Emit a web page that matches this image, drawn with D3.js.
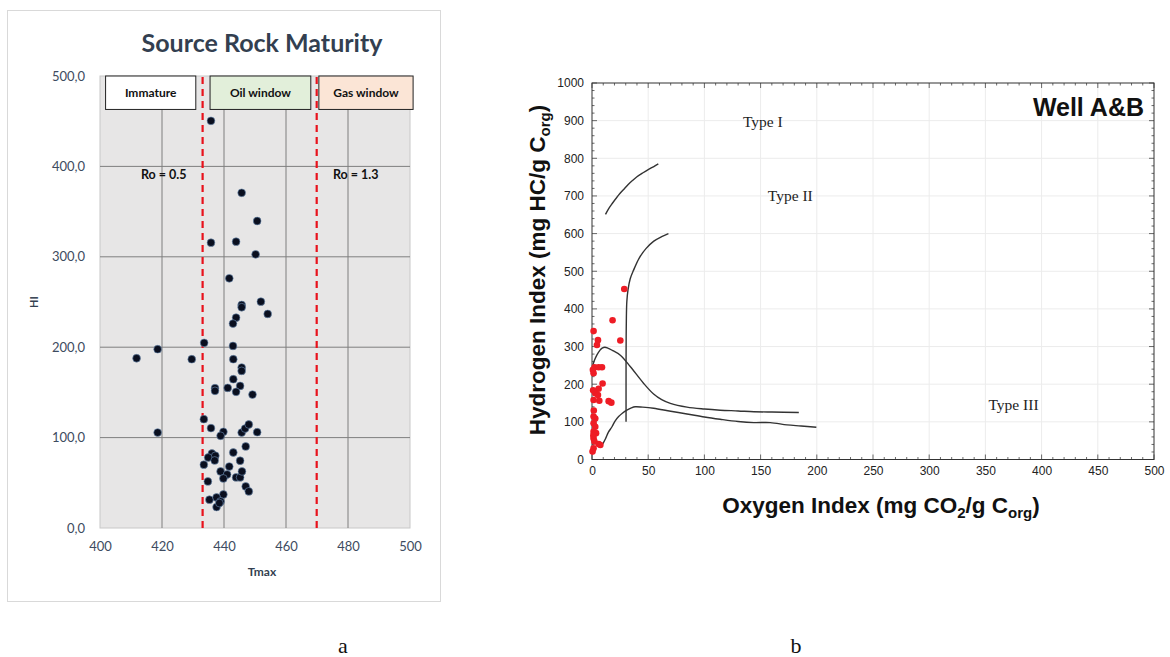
<!DOCTYPE html>
<html><head><meta charset="utf-8">
<script src="https://cdn.jsdelivr.net/npm/d3@7"></script>
<style>
html,body{margin:0;padding:0;background:#fff;}
svg{display:block;}
</style></head>
<body>
<svg id="chart" width="1170" height="657"></svg>
<script>
// ---------- Panel a data (Tmax vs HI) ----------
const tmax = [435.8,445.7,450.7,435.8,443.9,450.2,441.7,451.9,445.7,445.7,454.1,443.9,442.9,
  433.6,442.9,411.8,418.6,429.6,443.0,445.7,445.7,443.0,437.1,437.1,441.2,445.2,443.9,449.2,
  433.5,435.8,439.8,438.9,445.7,446.8,448.0,450.7,418.6,447.0,436.1,437.2,434.9,437.0,433.5,
  443.0,445.2,441.7,438.9,441.0,439.8,443.9,445.2,445.8,434.8,447.0,448.0,439.8,435.3,437.6,
  438.9,437.6,438.5];
const hiA = [450.4,370.8,339.6,315.6,316.7,302.7,276.2,250.4,246.7,244.2,236.8,232.7,226.1,
  204.8,201.4,187.8,197.8,186.7,186.7,177.5,173.8,164.6,154.7,151.7,155.0,157.2,150.6,147.6,
  120.4,110.5,106.4,102.0,105.6,110.0,114.5,106.0,105.6,90.2,82.4,79.9,78.0,74.7,70.0,
  83.5,74.4,68.0,62.6,59.2,54.8,56.0,56.0,62.6,51.5,46.0,40.5,37.1,31.3,33.8,
  29.4,23.2,27.6];
const tmaxTicks = [400,420,440,460,480,500];
const hiTicksA = [0,100,200,300,400,500];
const roValues = [433.1,469.9];
const roLabels = ["Ro = 0.5","Ro = 1.3"];
const zoneNames = ["Immature","Oil window","Gas window"];
const zoneStart = [401.8,435.5,470.6];
const zoneEnd = [430.9,468.0,501.0];
const zoneColors = ["#ffffff","#e2efda","#fbe5d6"];

// ---------- Panel b data (OI vs HI) ----------
const oi = [28.7,18.3,1.4,5.3,25.2,4.4,2.3,5.9,8.9,1.4,0.8,9.4,5.9,2.9,5.3,1.4,6.5,14.8,17.2,
  1.4,2.9,1.4,2.9,1.4,3.6,1.4,2.2,5.9,7.4,1.4,0.5,1.0,1.6,1.2];
const hiB = [453,370,341,317,316,304,245,245,245,229,238,202,188,176,171,158,156,155,151,
  114,109,96,87,74,70,56,48,41,38.5,30,21,184,130,64];
const oiTicks = [0,50,100,150,200,250,300,350,400,450,500];
const hiTicksB = [0,100,200,300,400,500,600,700,800,900,1000];
// kerogen type boundary curves
const curve1OI = [12,15,18,22,25,29,32,36,40,45,50,55,59];
const curve1HI = [651,667,680,696,707,720,730,741,751,761,770,778,785];
const curve2OI = [30.3,30.3,30.4,30.6,31,32,34,37,42,48,55,62,68];
const curve2HI = [100,250,330,380,420,450,480,503,535,560,580,592,600];
const curve3OI = [0.5,2,4.4,7,9,11.5,14,18,25.2,34,46,54.8,62,69.7,84.5,100,114,130,144,160,184];
const curve3HI = [247,262,278,290,296,298,296,290,277,247,202,174,159,149,139,134,131,129,127,126,125];
const curve4OI = [9.5,12,14.5,17.8,20.5,23.7,27,31,35,38.5,45,54.8,70,84.5,100,114,130,144,158.6,173.5,186,199.6];
const curve4HI = [41,55,72,87,102,114,123,131,137,140,139,136,128,121,113,107,101,98,98,92,89,85.5];
const typeLabels = ["Type I","Type II","Type III"];
const typeOI = [152,176.4,375];
const typeHI = [897,700,145];

const svg = d3.select("#chart");

// ================= PANEL A =================
const xA = d3.scaleLinear().domain([400,500]).range([100,410]);
const yA = d3.scaleLinear().domain([0,500]).range([528,76]);
const fA = "Lato, 'Open Sans', sans-serif";

svg.append("rect").attr("x",7.5).attr("y",10.5).attr("width",433).attr("height",591)
  .attr("fill","#fff").attr("stroke","#d9d9d9").attr("stroke-width",1);

svg.append("text").attr("x",262).attr("y",52).attr("text-anchor","middle")
  .attr("font-family",fA).attr("font-weight","bold").attr("font-size",25)
  .attr("fill","#333f50").text("Source Rock Maturity");

const gA = svg.append("g");
gA.append("rect").attr("x",xA(400)).attr("y",yA(500)).attr("width",xA(500)-xA(400))
  .attr("height",yA(0)-yA(500)).attr("fill","#e7e6e6").attr("stroke","#c8c8c8").attr("stroke-width",1);

// grid lines
gA.selectAll(".vg").data(tmaxTicks.slice(1,-1)).enter().append("line")
  .attr("x1",d=>xA(d)).attr("x2",d=>xA(d)).attr("y1",yA(0)).attr("y2",yA(500))
  .attr("stroke","#7f7f7f").attr("stroke-width",1);
gA.selectAll(".hg").data(hiTicksA.slice(1,-1)).enter().append("line")
  .attr("x1",xA(400)).attr("x2",xA(500)).attr("y1",d=>yA(d)).attr("y2",d=>yA(d))
  .attr("stroke","#7f7f7f").attr("stroke-width",1);

// axes labels
const axAx = d3.axisBottom(xA).tickValues(tmaxTicks).tickSize(0).tickPadding(14);
gA.append("g").attr("transform",`translate(0,${yA(0)})`).call(axAx)
  .call(g=>g.select(".domain").remove())
  .selectAll("text").attr("font-family",fA).attr("font-size",13).attr("fill","#3d4b60");
const axAy = d3.axisLeft(yA).tickValues(hiTicksA).tickSize(0).tickPadding(15)
  .tickFormat(d=>d.toFixed(1).replace(".",","));
gA.append("g").attr("transform",`translate(${xA(400)},0)`).call(axAy)
  .call(g=>g.select(".domain").remove())
  .selectAll("text").attr("font-family",fA).attr("font-size",13).attr("fill","#3d4b60");

svg.append("text").attr("x",262).attr("y",576).attr("text-anchor","middle")
  .attr("font-family",fA).attr("font-weight","bold").attr("font-size",12)
  .attr("fill","#333f50").text("Tmax");
svg.append("text").attr("transform","translate(38,302) rotate(-90)").attr("text-anchor","middle")
  .attr("font-family",fA).attr("font-weight","bold").attr("font-size",11)
  .attr("fill","#333f50").text("HI");

// zone boxes
const zoneTop = 500, zoneBottom = 463;
zoneNames.forEach((n,i)=>{
  gA.append("rect").attr("x",xA(zoneStart[i])).attr("y",yA(zoneTop))
    .attr("width",xA(zoneEnd[i])-xA(zoneStart[i])).attr("height",yA(zoneBottom)-yA(zoneTop))
    .attr("fill",zoneColors[i]).attr("stroke","#222").attr("stroke-width",1);
  gA.append("text").attr("x",(xA(zoneStart[i])+xA(zoneEnd[i]))/2).attr("y",(yA(zoneTop)+yA(zoneBottom))/2+4)
    .attr("text-anchor","middle").attr("font-family",fA).attr("font-weight","bold")
    .attr("font-size",12).attr("fill","#111").text(n);
});

// Ro dashed lines
gA.selectAll(".ro").data(roValues).enter().append("line")
  .attr("x1",d=>xA(d)).attr("x2",d=>xA(d)).attr("y1",yA(0)).attr("y2",yA(500))
  .attr("stroke","#e8121c").attr("stroke-width",2.2).attr("stroke-dasharray","7,5");
const roLabelX = [141, 333];
roLabels.forEach((t,i)=>{
  gA.append("text").attr("x",roLabelX[i]).attr("y",179).attr("font-family",fA)
    .attr("font-weight","bold").attr("font-size",12.5).attr("fill","#111").text(t);
});

// points
gA.selectAll(".pa").data(tmax).enter().append("circle")
  .attr("cx",(d)=>xA(d)).attr("cy",(d,i)=>yA(hiA[i])).attr("r",3.9)
  .attr("fill","#0a0f1f").attr("stroke","#6d8fb5").attr("stroke-width",0.6);

// ================= PANEL B =================
const xB = d3.scaleLinear().domain([0,500]).range([592,1154]);
const yB = d3.scaleLinear().domain([0,1000]).range([459.5,83]);
const fB = "'Liberation Sans', Arial, sans-serif";
const gB = svg.append("g");

// grid
gB.selectAll(".bvg").data(oiTicks.slice(1,-1)).enter().append("line")
  .attr("x1",d=>xB(d)).attr("x2",d=>xB(d)).attr("y1",yB(0)).attr("y2",yB(1000))
  .attr("stroke","#ececec").attr("stroke-width",1);
gB.selectAll(".bhg").data(hiTicksB.slice(1,-1)).enter().append("line")
  .attr("x1",xB(0)).attr("x2",xB(500)).attr("y1",d=>yB(d)).attr("y2",d=>yB(d))
  .attr("stroke","#ececec").attr("stroke-width",1);

// minor ticks (inward) on all sides
const minorX = d3.range(0,501,10), minorY = d3.range(0,1001,20);
gB.selectAll(".mxb").data(minorX).enter().append("line")
  .attr("x1",d=>xB(d)).attr("x2",d=>xB(d)).attr("y1",yB(0)).attr("y2",d=>yB(0)-(d%50===0?5:2.5))
  .attr("stroke","#444").attr("stroke-width",0.8);
gB.selectAll(".mxt").data(minorX).enter().append("line")
  .attr("x1",d=>xB(d)).attr("x2",d=>xB(d)).attr("y1",yB(1000)).attr("y2",d=>yB(1000)+(d%50===0?5:2.5))
  .attr("stroke","#444").attr("stroke-width",0.8);
gB.selectAll(".myl").data(minorY).enter().append("line")
  .attr("y1",d=>yB(d)).attr("y2",d=>yB(d)).attr("x1",xB(0)).attr("x2",d=>xB(0)+(d%100===0?5:2.5))
  .attr("stroke","#444").attr("stroke-width",0.8);
gB.selectAll(".myr").data(minorY).enter().append("line")
  .attr("y1",d=>yB(d)).attr("y2",d=>yB(d)).attr("x1",xB(500)).attr("x2",d=>xB(500)-(d%100===0?5:2.5))
  .attr("stroke","#444").attr("stroke-width",0.8);

// frame
gB.append("rect").attr("x",xB(0)).attr("y",yB(1000)).attr("width",xB(500)-xB(0))
  .attr("height",yB(0)-yB(1000)).attr("fill","none").attr("stroke","#333").attr("stroke-width",1);

// tick labels
gB.append("g").attr("transform",`translate(0,${yB(0)})`)
  .call(d3.axisBottom(xB).tickValues(oiTicks).tickSize(0).tickPadding(7).tickFormat(d3.format("d")))
  .call(g=>g.select(".domain").remove())
  .selectAll("text").attr("font-family",fB).attr("font-size",12).attr("fill","#222");
gB.append("g").attr("transform",`translate(${xB(0)},0)`)
  .call(d3.axisLeft(yB).tickValues(hiTicksB).tickSize(0).tickPadding(8).tickFormat(d3.format("d")))
  .call(g=>g.select(".domain").remove())
  .selectAll("text").attr("font-family",fB).attr("font-size",12).attr("fill","#222");

// axis titles
const xt = svg.append("text").attr("x",881).attr("y",513).attr("text-anchor","middle")
  .attr("font-family",fB).attr("font-weight","bold").attr("font-size",22.5).attr("fill","#111");
xt.append("tspan").text("Oxygen Index (mg CO");
xt.append("tspan").attr("font-size",15).attr("dy",5).text("2");
xt.append("tspan").attr("dy",-5).text("/g C");
xt.append("tspan").attr("font-size",15).attr("dy",5).text("org");
xt.append("tspan").attr("dy",-5).text(")");

const yt = svg.append("text").attr("transform","translate(545,270) rotate(-90)").attr("text-anchor","middle")
  .attr("font-family",fB).attr("font-weight","bold").attr("font-size",22.5).attr("fill","#111");
yt.append("tspan").text("Hydrogen Index (mg HC/g C");
yt.append("tspan").attr("font-size",15).attr("dy",5).text("org");
yt.append("tspan").attr("dy",-5).text(")");

svg.append("text").attr("x",1144).attr("y",116).attr("text-anchor","end")
  .attr("font-family",fB).attr("font-weight","bold").attr("font-size",25).attr("fill","#111")
  .text("Well A&B");

// curves
const lineC = d3.line().x(d=>xB(d[0])).y(d=>yB(d[1])).curve(d3.curveCatmullRom);
const curves = [
  [curve1OI,curve1HI],[curve2OI,curve2HI],[curve3OI,curve3HI],[curve4OI,curve4HI]
];
curves.forEach((c)=>{
  const pts = c[0].map((v,j)=>[v,c[1][j]]);
  gB.append("path").attr("d",lineC(pts)).attr("fill","none")
    .attr("stroke","#333").attr("stroke-width",1.4);
});

// type labels
typeLabels.forEach((t,i)=>{
  gB.append("text").attr("x",xB(typeOI[i])).attr("y",yB(typeHI[i])+5).attr("text-anchor","middle")
    .attr("font-family","'Liberation Serif','Times New Roman',serif").attr("font-size",15.5)
    .attr("fill","#222").text(t);
});

// red points
gB.selectAll(".pb").data(oi).enter().append("circle")
  .attr("cx",d=>xB(d)).attr("cy",(d,i)=>yB(hiB[i])).attr("r",3.3)
  .attr("fill","#ee1c25");

// captions
const capFont = "'Liberation Serif','Times New Roman',serif";
svg.append("text").attr("x",343).attr("y",653).attr("text-anchor","middle")
  .attr("font-family",capFont).attr("font-size",22).attr("fill","#111").text("a");
svg.append("text").attr("x",796).attr("y",653).attr("text-anchor","middle")
  .attr("font-family",capFont).attr("font-size",22).attr("fill","#111").text("b");
</script>
</body></html>
